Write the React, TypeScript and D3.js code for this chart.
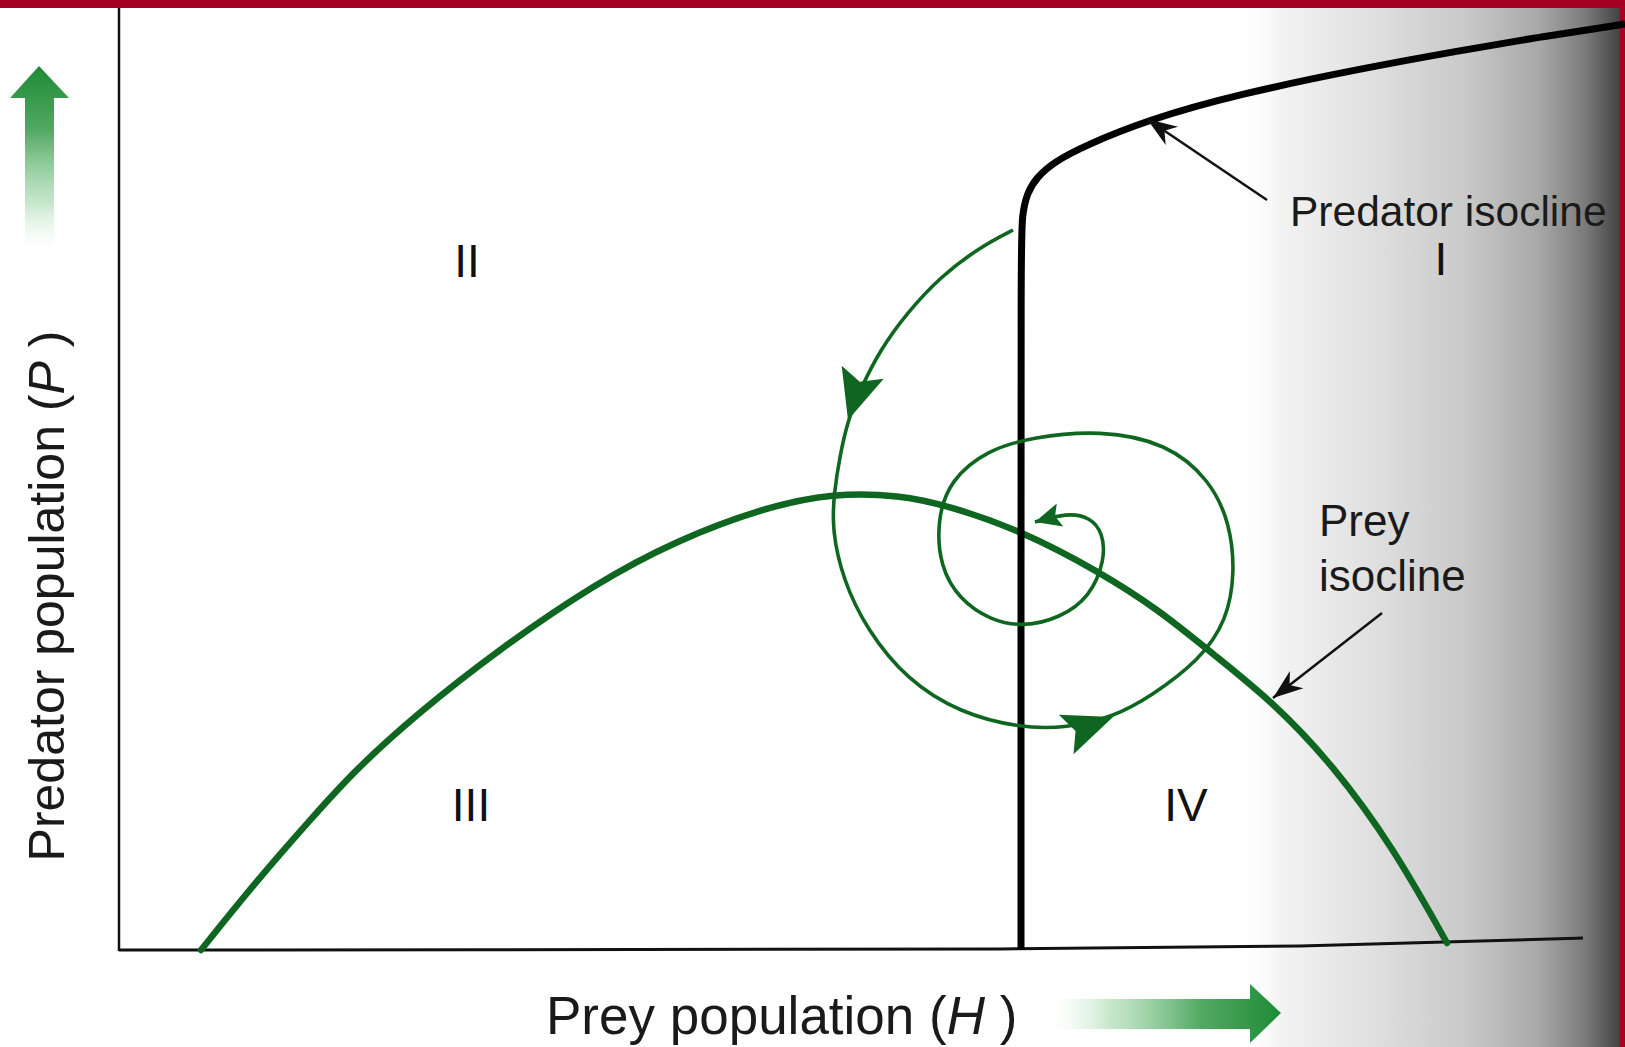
import React from 'react';
import * as d3 from 'd3';

const W = 1625;
const HGT = 1047;

// Chart units: H = prey (distance right of the P axis), P = predator (distance above the H axis)
const preyIsoclineH = [82, 140, 192, 236, 299, 379, 477, 558, 647, 714, 781, 830, 901, 981, 1040, 1094, 1154, 1214, 1274, 1328];
const preyIsoclineP = [0, 72, 131, 180, 237, 300, 367, 410, 443, 457, 455, 444, 420, 378, 340, 296, 248, 185, 103, 7];

const predatorIsoclineH = [902, 902, 902, 903, 908, 918, 935, 965, 1028, 1120, 1240, 1339, 1421, 1506];
const predatorIsoclineP = [0, 350, 700, 735, 757, 773, 788, 804, 830, 856, 881, 899, 913, 926];

const trajectoryH = [894, 861, 821, 788, 761, 741, 729, 721, 715, 713, 724, 748, 788, 841, 901, 948, 994, 1031, 1081, 1108, 1116, 1111, 1091, 1048, 981, 914, 868, 831, 818, 821, 841, 871, 904, 941, 971, 986, 984, 971, 948, 916];
const trajectoryP = [720, 703, 673, 637, 600, 560, 530, 495, 457, 420, 370, 320, 270, 237, 222, 222, 233, 253, 290, 330, 377, 427, 470, 507, 520, 513, 500, 470, 430, 383, 350, 330, 323, 332, 353, 390, 417, 433, 437, 428];
// indices along the trajectory where direction arrowheads sit
const trajectoryArrowIdx = [6, 16, 39];
const trajectoryArrowLen = [50, 50, 26];
const trajectoryArrowHalfW = [22, 21, 12];

const xAxisH = [0, 881, 1181, 1464];
const xAxisP = [0, 1, 4, 12];

const regionLabels = ['I', 'II', 'III', 'IV'];
const regionH = [1322, 348, 352, 1067];
const regionP = [675, 673, 129, 129];

// annotation pointers: [fromH, fromP, toH, toP]
const predatorPointer = [1148, 750, 1028, 831];
const preyPointer = [1263, 337, 1154, 252];

const x = d3.scaleLinear().domain([0, 1506]).range([119, 1625]);
const y = d3.scaleLinear().domain([0, 950]).range([950, 0]);

const zip = (a: number[], b: number[]) => a.map((v, i) => [v, b[i]] as [number, number]);

const smooth = d3
  .line<[number, number]>()
  .x((d) => x(d[0]))
  .y((d) => y(d[1]))
  .curve(d3.curveBasis);

const straight = d3
  .line<[number, number]>()
  .x((d) => x(d[0]))
  .y((d) => y(d[1]))
  .curve(d3.curveMonotoneX);

function head(tip: [number, number], from: [number, number], len: number, hw: number, notch = 0.22) {
  const dx = tip[0] - from[0];
  const dy = tip[1] - from[1];
  const d = Math.hypot(dx, dy) || 1;
  const ux = dx / d;
  const uy = dy / d;
  const px = -uy;
  const py = ux;
  const bx = tip[0] - ux * len;
  const by = tip[1] - uy * len;
  const nx = tip[0] - ux * len * (1 - notch);
  const ny = tip[1] - uy * len * (1 - notch);
  return `M${tip[0]},${tip[1]}L${bx + px * hw},${by + py * hw}L${nx},${ny}L${bx - px * hw},${by - py * hw}Z`;
}

const FONT = '"Liberation Sans", Arial, Helvetica, sans-serif';
const GREEN = '#0e6620';

export default function App() {
  const prey = zip(preyIsoclineH, preyIsoclineP);
  const pred = zip(predatorIsoclineH, predatorIsoclineP);
  const traj = zip(trajectoryH, trajectoryP);
  const axisPts = zip(xAxisH, xAxisP);

  const trajScreen = traj.map((d) => [x(d[0]), y(d[1])] as [number, number]);
  const arrowHeads = trajectoryArrowIdx.map((idx, k) => {
    const tip = trajScreen[idx];
    const from = trajScreen[Math.max(0, idx - 1)];
    const nxt = trajScreen[Math.min(trajScreen.length - 1, idx + 1)];
    const dirFrom: [number, number] =
      idx === trajScreen.length - 1 ? from : [tip[0] - (nxt[0] - from[0]), tip[1] - (nxt[1] - from[1])];
    return head(tip, dirFrom, trajectoryArrowLen[k], trajectoryArrowHalfW[k], 0.2);
  });

  const pointer = (p: number[]) => {
    const a: [number, number] = [x(p[0]), y(p[1])];
    const b: [number, number] = [x(p[2]), y(p[3])];
    return { a, b, h: head(b, a, 30, 11, 0.3) };
  };
  const pp1 = pointer(predatorPointer);
  const pp2 = pointer(preyPointer);

  return (
    <svg
      width={W}
      height={HGT}
      viewBox={`0 0 ${W} ${HGT}`}
      style={{ position: 'fixed', left: 0, top: 0, display: 'block', background: '#fff' }}
    >
      <defs>
        <linearGradient id="shade" x1="0" x2="1" y1="0" y2="0">
          <stop offset="0" stopColor="#ffffff" stopOpacity="0" />
          <stop offset="0.12" stopColor="#f3f3f3" stopOpacity="1" />
          <stop offset="0.35" stopColor="#e0e0e0" />
          <stop offset="0.6" stopColor="#c8c8c8" />
          <stop offset="0.78" stopColor="#a8a8a8" />
          <stop offset="0.9" stopColor="#7a7a7a" />
          <stop offset="1" stopColor="#3a3a3a" />
        </linearGradient>
        <linearGradient id="upArrow" x1="0" x2="0" y1="0" y2="1">
          <stop offset="0" stopColor="#1e8a35" />
          <stop offset="0.35" stopColor="#3f9f52" stopOpacity="0.9" />
          <stop offset="0.75" stopColor="#8fd09a" stopOpacity="0.5" />
          <stop offset="1" stopColor="#d8f0dc" stopOpacity="0" />
        </linearGradient>
        <linearGradient id="rightArrow" x1="1" x2="0" y1="0" y2="0">
          <stop offset="0" stopColor="#1e8a35" />
          <stop offset="0.35" stopColor="#3f9f52" stopOpacity="0.9" />
          <stop offset="0.75" stopColor="#8fd09a" stopOpacity="0.5" />
          <stop offset="1" stopColor="#d8f0dc" stopOpacity="0" />
        </linearGradient>
      </defs>

      {/* photo shading on right */}
      <rect x={1235} y={0} width={390} height={HGT} fill="url(#shade)" />

      {/* red frame */}
      <rect x={0} y={0} width={W} height={8} fill="#a30021" />
      <rect x={1620} y={0} width={5} height={HGT} fill="#a30021" />

      {/* axes */}
      <line x1={x(0)} x2={x(0)} y1={y(0) + 1} y2={y(942)} stroke="#111" strokeWidth={2.5} />
      <path d={straight(axisPts) || ''} fill="none" stroke="#111" strokeWidth={3} />

      {/* prey isocline */}
      <path d={smooth(prey) || ''} fill="none" stroke={GREEN} strokeWidth={6.5} strokeLinecap="round" />

      {/* predator isocline */}
      <path d={smooth(pred) || ''} fill="none" stroke="#000" strokeWidth={7} />

      {/* trajectory */}
      <path d={smooth(traj) || ''} fill="none" stroke={GREEN} strokeWidth={3.6} />
      {arrowHeads.map((d, i) => (
        <path key={i} d={d} fill={GREEN} />
      ))}

      {/* pointers */}
      <line x1={pp1.a[0]} y1={pp1.a[1]} x2={pp1.b[0]} y2={pp1.b[1]} stroke="#111" strokeWidth={2.5} />
      <path d={pp1.h} fill="#111" />
      <line x1={pp2.a[0]} y1={pp2.a[1]} x2={pp2.b[0]} y2={pp2.b[1]} stroke="#111" strokeWidth={2.5} />
      <path d={pp2.h} fill="#111" />

      {/* region labels */}
      {regionLabels.map((t, i) => (
        <text key={t} x={x(regionH[i])} y={y(regionP[i])} fontFamily={FONT} fontSize={46} textAnchor="middle" fill="#111">
          {t}
        </text>
      ))}

      <text x={x(1171)} y={y(724)} fontFamily={FONT} fontSize={42.5} fill="#1a1a1a">
        Predator isocline
      </text>
      <text x={x(1200)} y={y(414)} fontFamily={FONT} fontSize={44} fill="#1a1a1a">
        Prey
      </text>
      <text x={x(1200)} y={y(359)} fontFamily={FONT} fontSize={44} fill="#1a1a1a">
        isocline
      </text>

      {/* axis titles */}
      <text x={546} y={1034} fontFamily={FONT} fontSize={53} fill="#1a1a1a">
        Prey population (<tspan fontStyle="italic">H</tspan> )
      </text>
      <text
        transform="translate(64,596) rotate(-90)"
        textAnchor="middle"
        fontFamily={FONT}
        fontSize={50}
        fill="#1a1a1a"
      >
        Predator population (<tspan fontStyle="italic">P</tspan> )
      </text>

      {/* direction arrows */}
      <path d="M39,66 L69,98 L54,98 L54,250 L25,250 L25,98 L10,98 Z" fill="url(#upArrow)" />
      <path d="M1281,1013 L1250,984 L1250,999 L1052,999 L1052,1029 L1250,1029 L1250,1043 Z" fill="url(#rightArrow)" />
    </svg>
  );
}
